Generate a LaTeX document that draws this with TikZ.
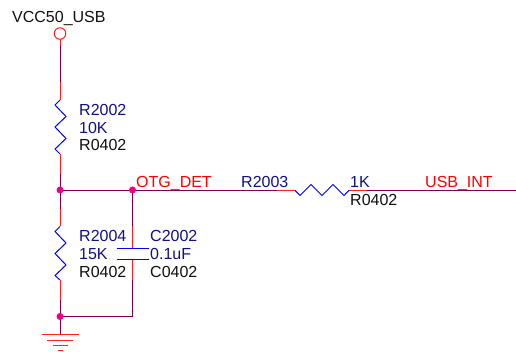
\documentclass[tikz,border=0pt]{standalone}
\usepackage{fontspec}
\setmainfont{Liberation Sans}
\definecolor{wirep}{HTML}{800050}
\definecolor{pinr}{HTML}{FF2020}
\definecolor{refb}{HTML}{101088}
\definecolor{valr}{HTML}{FF0000}
\definecolor{txtk}{HTML}{101010}
\tikzset{
  wire/.style={draw=wirep,line width=1pt},
  pin/.style={draw=pinr,line width=1pt},
  body/.style={draw=blue,line width=1pt,line join=miter},
  plate/.style={draw=blue,line width=1pt},
  gnd/.style={draw=pinr,line width=1pt},
  dotj/.style={circle,fill=magenta,draw=none,minimum size=7pt,inner sep=0pt},
  lab/.style={anchor=base west,inner sep=0pt,font=\fontsize{16}{18}\selectfont},
  refl/.style={lab,text=refb},
  nett/.style={lab,text=valr},
  blk/.style={lab,text=txtk}
}
\begin{document}
\begin{tikzpicture}[x=1pt,y=-1pt]
\useasboundingbox (0,0) rectangle (516,352);
% power symbol and junctions
\node[circle,draw=pinr,fill=white,line width=1pt,minimum size=11.5pt,inner sep=0pt] (vcc) at (60,33.5) {};
\coordinate (r1t) at (60,100);
\coordinate (r1b) at (60,154);
\coordinate (r2t) at (60,226.5);
\coordinate (r2b) at (60,280);
\coordinate (c1t) at (132.5,248.2);
\coordinate (c1b) at (132.5,259.2);
\coordinate (r3l) at (295,190.3);
\coordinate (r3r) at (349,190.3);
\coordinate (end) at (516,190.3);
\coordinate (gt) at (60,334.5);
\coordinate (jb2) at (132.5,316.5);
% pin stubs (red)
\path[pin] (60,39) -- (r1t);
\path[pin] (r1b) -- (60,190);
\path[pin] (60,190) -- (r2t);
\path[pin] (r2b) -- (60,316.5);
\path[pin] (132.5,190) -- (c1t);
\path[pin] (c1b) -- (jb2);
\path[pin] (277,190.3) -- (r3l);
\path[pin] (r3r) -- (367,190.3);
\path[gnd] (60,316.5) -- (gt);
% wires (purple)
\path[wire] (60,46) -- (60,82);
\path[wire] (60,174) -- (60,209);
\path[wire] (60,300) -- (60,334);
\path[wire] (60,190.3) -- (277,190.3);
\path[wire] (367,190.3) -- (end);
\path[wire] (132.5,190) -- (132.5,226);
\path[wire] (132.5,280) -- (jb2) -- (60,316.5);
% resistors
\path[body] (r1t) -- (55,105) -- (66,116.5) -- (55,127) -- (66,138.5) -- (55,149) -- (r1b);
\path[body] (r2t) -- (55,231.5) -- (66,243) -- (55,253.5) -- (66,265) -- (55,275.5) -- (r2b);
\path[body] (r3l) -- (300,195.5) -- (311,184.5) -- (322,195.5) -- (333,184.5) -- (344,195.5) -- (r3r);
% capacitor
\path[plate] (116.5,248.2) -- (c1t) -- (148.5,248.2);
\path[plate] (116.5,259.2) -- (c1b) -- (148.5,259.2);
% ground
\path[gnd] (42,334.5) -- (gt) -- (79,334.5);
\path[gnd] (47,340.5) -- (73,340.5);
\path[gnd] (53,345.5) -- (68,345.5);
\path[gnd] (58,350.5) -- (63,350.5);
% junction dots
\node[dotj] (j1) at (60,190) {};
\node[dotj] (j2) at (132.5,190) {};
\node[dotj] (j3) at (60,316.5) {};
% labels
\node[blk] (tvcc) at (12,22.5) {VCC50\_USB};
\node[refl] (t1) at (79,116) {R2002};
\node[refl] (t2) at (79,134) {10K};
\node[blk] (t3) at (79,151) {R0402};
\node[nett] (t4) at (136,188) {OTG\_DET};
\node[refl] (t5) at (241,188) {R2003};
\node[refl] (t6) at (350,188) {1K};
\node[blk] (t7) at (350,206) {R0402};
\node[nett] (t8) at (425,188) {USB\_INT};
\node[refl] (t9) at (79,242) {R2004};
\node[refl] (t10) at (79,260) {15K};
\node[blk] (t11) at (79,277) {R0402};
\node[refl] (t12) at (150,242) {C2002};
\node[refl] (t13) at (150,260) {0.1uF};
\node[blk] (t14) at (150,277) {C0402};
\end{tikzpicture}
\end{document}
